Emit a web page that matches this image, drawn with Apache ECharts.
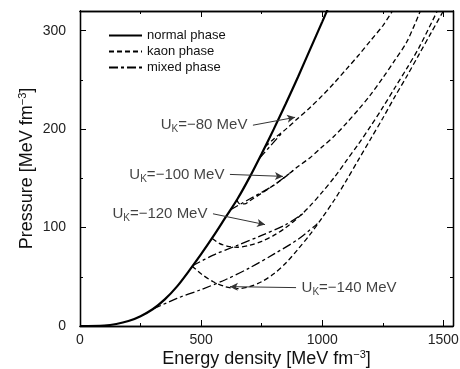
<!DOCTYPE html>
<html>
<head>
<meta charset="utf-8">
<script src="https://cdn.jsdelivr.net/npm/echarts@6/dist/echarts.min.js"></script>
<style>html,body{margin:0;padding:0;background:#fff}#c{width:460px;height:369px}</style>
</head>
<body>
<div id="c"></div>
<script>
// ---- data (energy density [MeV fm^-3], pressure [MeV fm^-3]) ----
var normalPhase = [[0,0],[100,0.5],[150,2],[200,5],[250,10],[300,17],[350,27],[400,40],[450,56],[500,73],[550,91],[600,110],[650,129],[700,151],[750,175],[800,200],[850,226],[900,253],[950,281],[1000,309],[1030,326]];
var kaon80  = [[764,182],[800,190],[850,200],[900,211],[950,222],[1000,234],[1050,247],[1100,261],[1150,275],[1200,290],[1250,305],[1290,320]];
var kaon100 = [[648,128],[660,124],[680,124],[700,127],[750,135],[800,143],[850,152],[900,162],[950,171],[1000,182],[1050,193],[1100,206],[1150,220],[1200,235],[1250,252],[1300,270],[1350,289],[1405,320]];
var kaon120 = [[546,89],[575,84],[610,81],[650,80],[700,82],[750,86],[800,92],[850,100],[900,110],[950,122],[1000,136],[1050,151],[1100,168],[1150,185],[1200,203],[1250,222],[1300,242],[1350,262],[1400,283],[1475,320]];
var kaon140 = [[463,61],[500,53],[550,45],[600,40],[650,38],[700,40],[750,45],[800,53],[850,64],[900,78],[950,93],[1000,110],[1050,128],[1100,148],[1150,169],[1200,190],[1250,211],[1300,233],[1350,254],[1400,276],[1450,298],[1500,320]];
var mixed80  = [[740,170],[790,184],[830,195]];
var mixed100 = [[620,118],[700,129],[800,143],[880,158]];
var mixed120 = [[463,61],[550,72],[650,82],[750,92],[850,103],[920,114]];
var mixed140 = [[300,17],[400,28],[500,37],[600,47],[700,59],[800,73],[900,88],[980,104]];
var annotationLabels = ['\u221280','\u2212100','\u2212120','\u2212140'];
var arrowStarts = [[714,204],[619,154],[549,114],[892,39]];
var arrowEnds   = [[888,212],[838,152],[764,103],[619,40]];
var xMajorTicks = [0,500,1000,1500];
var xMinorTicks = [250,750,1250];
var yMajorTicks = [0,100,200,300];
var yMinorTicks = [50,150,250];
var legendNames = ['normal phase','kaon phase','mixed phase'];

var FONT = 'Liberation Sans, Arial, Helvetica, sans-serif';
var XMAX = 1540, YMAX = 320;

function xAx(pos, ticks, len, labels){
  return {type:'value', min:0, max:XMAX, position:pos,
    axisLine:{show:true, onZero:false, lineStyle:{color:'#000', width:1.3}},
    axisTick:{show:true, inside:true, length:len, customValues:ticks, lineStyle:{color:'#000', width:1}},
    axisLabel:{show:labels, customValues:ticks, color:'#222', fontSize:14, fontFamily:FONT, margin:7,
      formatter:function(v){ return String(v); }},
    splitLine:{show:false}};
}
function yAx(pos, ticks, len, labels){
  return {type:'value', min:0, max:YMAX, position:pos,
    axisLine:{show:true, onZero:false, lineStyle:{color:'#000', width:1.3}},
    axisTick:{show:true, inside:true, length:len, customValues:ticks, lineStyle:{color:'#000', width:1}},
    axisLabel:{show:labels, customValues:ticks, color:'#222', fontSize:14, fontFamily:FONT, margin:14,
      formatter:function(v){ return String(v); }},
    splitLine:{show:false}};
}
var xAxes = [xAx('bottom', xMajorTicks, 6, true), xAx('bottom', xMinorTicks, 3, false), xAx('top', xMajorTicks, 6, false), xAx('top', xMinorTicks, 3, false)];
var yAxes = [yAx('left', yMajorTicks, 6, true), yAx('left', yMinorTicks, 3, false), yAx('right', yMajorTicks, 6, false), yAx('right', yMinorTicks, 3, false)];
xAxes[0].name = '{t|Energy density [MeV fm}{s|\u22123}{t|]}';
xAxes[0].nameLocation = 'middle';
xAxes[0].nameGap = 23;
xAxes[0].nameMoveOverlap = false;
xAxes[0].nameTextStyle = {rich:{t:{fontSize:18, fontFamily:FONT, color:'#111'}, s:{fontSize:11, fontFamily:FONT, color:'#111', padding:[0,0,10,0]}}};
yAxes[0].name = '{t|Pressure [MeV fm}{s|\u22123}{t|]}';
yAxes[0].nameLocation = 'middle';
yAxes[0].nameGap = 42;
yAxes[0].nameMoveOverlap = false;
yAxes[0].nameTextStyle = {rich:{t:{fontSize:18, fontFamily:FONT, color:'#111'}, s:{fontSize:11, fontFamily:FONT, color:'#111', padding:[0,0,10,0]}}};

function lineSeries(name, data, type, width){
  return {name:name, type:'line', data:data, xAxisIndex:0, yAxisIndex:0, symbol:'none', smooth:0.3, clip:true,
    lineStyle:{color:'#000', width:width, type:type}, itemStyle:{color:'#000'}, animation:false, silent:true};
}
var DASH = [5,3], DASHDOT = [9,3,3,3];
var series = [
  lineSeries(legendNames[0], normalPhase, 'solid', 2.2),
  lineSeries(legendNames[1], kaon80, DASH, 1.3),
  lineSeries(legendNames[1], kaon100, DASH, 1.3),
  lineSeries(legendNames[1], kaon120, DASH, 1.3),
  lineSeries(legendNames[1], kaon140, DASH, 1.3),
  lineSeries(legendNames[2], mixed80, DASHDOT, 1.3),
  lineSeries(legendNames[2], mixed100, DASHDOT, 1.3),
  lineSeries(legendNames[2], mixed120, DASHDOT, 1.3),
  lineSeries(legendNames[2], mixed140, DASHDOT, 1.3)
];
var annData = arrowStarts.map(function(p, i){
  return {value:p, label:{position: i === 3 ? 'right' : 'left', distance: 5,
    formatter:'{u|U}{k|K}{u|=' + annotationLabels[i] + ' MeV}'}};
});
series.push({
  name:'annotations', type:'scatter', data:annData, symbol:'circle', symbolSize:1,
  itemStyle:{color:'rgba(0,0,0,0)'}, animation:false, silent:true,
  label:{show:true, rich:{u:{fontSize:15, fontFamily:FONT, color:'#111'}, k:{fontSize:10, fontFamily:FONT, color:'#111', padding:[9,0,0,0]}}},
  markLine:{silent:true, animation:false, symbol:['none','arrow'], symbolSize:[6,8], label:{show:false},
    lineStyle:{color:'#333', width:1, type:'solid'},
    data: arrowStarts.map(function(p,i){ return [{coord:p},{coord:arrowEnds[i]}]; })}
});

var chart = echarts.init(document.getElementById('c'), null, {renderer:'canvas'});
chart.setOption({
  backgroundColor:'#fff',
  animation:false,
  grid:{left:80, right:7, top:11, bottom:43, containLabel:false, outerBoundsMode:'none'},
  xAxis:xAxes, yAxis:yAxes,
  legend:{data:legendNames, orient:'vertical', left:103, top:24, itemWidth:33, itemHeight:12, itemGap:3,
    itemStyle:{color:'rgba(0,0,0,0)', borderWidth:0},
    textStyle:{fontSize:13, fontFamily:FONT, color:'#111'}, selectedMode:false},
  series:series
});
</script>
</body>
</html>
